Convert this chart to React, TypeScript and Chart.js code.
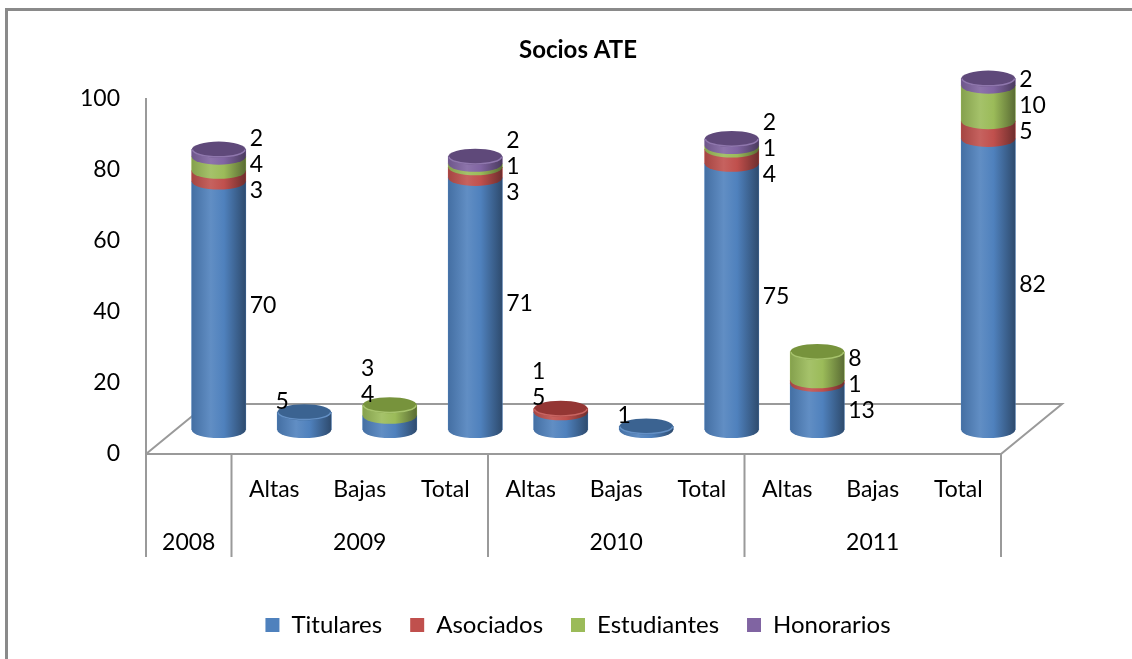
import { useEffect, useRef } from "react";
import { Chart, registerables } from "chart.js";

Chart.register(...registerables);

// ---- Data ----
const categories = [
  "2008",
  "2009 Altas",
  "2009 Bajas",
  "2009 Total",
  "2010 Altas",
  "2010 Bajas",
  "2010 Total",
  "2011 Altas",
  "2011 Bajas",
  "2011 Total",
];
const subLabels = ["", "Altas", "Bajas", "Total", "Altas", "Bajas", "Total", "Altas", "Bajas", "Total"];
const groupLabels = ["2008", "2009", "2010", "2011"];
const groupSizes = [1, 3, 3, 3];

const seriesNames = ["Titulares", "Asociados", "Estudiantes", "Honorarios"];
const titulares = [70, 5, 4, 71, 5, 1, 75, 13, null, 82];
const asociados = [3, null, null, 3, 1, null, 4, 1, null, 5];
const estudiantes = [4, null, 3, 1, null, null, 1, 8, null, 10];
const honorarios = [2, null, null, 2, null, null, 2, null, null, 2];
const seriesData = [titulares, asociados, estudiantes, honorarios];

const seriesColors = ["#4F81BD", "#C0504D", "#9BBB59", "#8064A2"];
const capColors = ["#3B6391", "#943634", "#77933C", "#5F497A"];

const FONT = 'Lato, "Open Sans", sans-serif';

// 3D projection offsets
const DEPTH_X = 61;
const DEPTH_Y = -50;
const DX = 30;
const DY = -24;
const RY = 8;
const LABEL_GAP = 26;

function shade(hex: string, f: number) {
  const n = parseInt(hex.slice(1), 16);
  let r = n >> 16;
  let g = (n >> 8) & 255;
  let b = n & 255;
  const t = f < 0 ? 0 : 255;
  const p = Math.abs(f);
  r = Math.round((t - r) * p + r);
  g = Math.round((t - g) * p + g);
  b = Math.round((t - b) * p + b);
  return `rgb(${r},${g},${b})`;
}

function spread(mids: number[], gap: number) {
  // mids ordered bottom (largest y) to top
  let clusters = mids.map((m) => ({ items: [m], n: 1, mean: m }));
  let changed = true;
  while (changed) {
    changed = false;
    for (let i = 0; i < clusters.length - 1; i++) {
      const a = clusters[i];
      const b = clusters[i + 1];
      const topA = a.mean - (gap * (a.n - 1)) / 2;
      const botB = b.mean + (gap * (b.n - 1)) / 2;
      if (topA - botB < gap) {
        const items = a.items.concat(b.items);
        const mean = items.reduce((s, v) => s + v, 0) / items.length;
        clusters.splice(i, 2, { items, n: items.length, mean });
        changed = true;
        break;
      }
    }
  }
  const out: number[] = [];
  clusters.forEach((c) => {
    for (let k = 0; k < c.n; k++) out.push(c.mean + gap * ((c.n - 1) / 2 - k));
  });
  return out;
}

const cylinderPlugin = {
  id: "cylinders",
  beforeDraw(chart: any) {
    const ctx = chart.ctx;
    ctx.save();
    ctx.strokeStyle = "#8a8a8a";
    ctx.lineWidth = 3;
    ctx.strokeRect(6.5, 9.5, chart.width + 20, chart.height + 20);
    ctx.restore();
  },
  beforeDatasetsDraw(chart: any) {
    const ctx = chart.ctx;
    const { left, right, bottom } = chart.chartArea;
    ctx.save();
    ctx.strokeStyle = "#9a9a9a";
    ctx.lineWidth = 2;
    ctx.beginPath();
    ctx.moveTo(left, bottom);
    ctx.lineTo(right, bottom);
    ctx.lineTo(right + DEPTH_X, bottom + DEPTH_Y);
    ctx.lineTo(left + DEPTH_X, bottom + DEPTH_Y);
    ctx.lineTo(left, bottom);
    ctx.stroke();
    ctx.restore();
    ctx.save();
    ctx.translate(DX, DY);
  },
  afterDatasetsDraw(chart: any) {
    const ctx = chart.ctx;
    const n = chart.data.labels.length;
    const labelsToDraw: { x: number; y: number; text: string; align: CanvasTextAlign }[] = [];
    for (let i = 0; i < n; i++) {
      const segs: { k: number; el: any; v: number }[] = [];
      chart.data.datasets.forEach((ds: any, k: number) => {
        const v = ds.data[i];
        if (v == null || v === 0) return;
        const el = chart.getDatasetMeta(k).data[i];
        segs.push({ k, el, v });
      });
      if (!segs.length) continue;
      segs.forEach((s) => {
        const { x, y, base, width } = s.el.getProps(["x", "y", "base", "width"], true);
        const l = x - width / 2;
        const r = x + width / 2;
        const c = seriesColors[s.k];
        const g = ctx.createLinearGradient(l, 0, r, 0);
        g.addColorStop(0, shade(c, -0.14));
        g.addColorStop(0.35, shade(c, 0.1));
        g.addColorStop(0.6, c);
        g.addColorStop(1, shade(c, -0.42));
        ctx.fillStyle = g;
        ctx.beginPath();
        ctx.moveTo(l, y);
        ctx.lineTo(l, base);
        ctx.ellipse(x, base, width / 2, RY, 0, Math.PI, 0, true);
        ctx.lineTo(r, y);
        ctx.closePath();
        ctx.fill();
      });
      const topSeg = segs[segs.length - 1];
      const tp = topSeg.el.getProps(["x", "y", "base", "width"], true);
      ctx.fillStyle = capColors[topSeg.k];
      ctx.beginPath();
      ctx.ellipse(tp.x, tp.y, tp.width / 2, RY, 0, 0, Math.PI * 2);
      ctx.fill();
      ctx.strokeStyle = shade(seriesColors[topSeg.k], 0.12);
      ctx.lineWidth = 1.5;
      ctx.beginPath();
      ctx.ellipse(tp.x, tp.y, tp.width / 2 - 0.75, RY - 0.75, 0, Math.PI, 0, true);
      ctx.stroke();

      const total = segs.reduce((s, v) => s + v.v, 0);
      if (total < 10) {
        const lx = tp.x - tp.width / 2 + 5;
        segs.forEach((s, idx) => {
          labelsToDraw.push({ x: lx, y: tp.y - 11 - idx * LABEL_GAP, text: String(s.v), align: "center" });
        });
      } else {
        const mids = segs.map((s) => {
          const p = s.el.getProps(["y", "base"], true);
          return (p.y + p.base) / 2;
        });
        const ys = spread(mids, LABEL_GAP);
        const lx = tp.x + tp.width / 2 + 4;
        segs.forEach((s, idx) => {
          labelsToDraw.push({ x: lx, y: ys[idx], text: String(s.v), align: "left" });
        });
      }
    }
    ctx.fillStyle = "#000";
    ctx.font = `23px ${FONT}`;
    ctx.textBaseline = "middle";
    labelsToDraw.forEach((lb) => {
      ctx.textAlign = lb.align;
      ctx.fillText(lb.text, lb.x, lb.y);
    });
    ctx.restore();
  },
  afterDraw(chart: any) {
    const ctx = chart.ctx;
    const xs = chart.scales.x;
    const { left, right, bottom } = chart.chartArea;
    const divBottom = bottom + 103;
    ctx.save();
    const bounds: number[] = [left];
    let idx = 0;
    groupSizes.forEach((sz) => {
      idx += sz;
      if (idx >= categories.length) bounds.push(right);
      else bounds.push((xs.getPixelForValue(idx - 1) + xs.getPixelForValue(idx)) / 2);
    });
    ctx.strokeStyle = "#9a9a9a";
    ctx.lineWidth = 2;
    ctx.beginPath();
    bounds.forEach((bx) => {
      ctx.moveTo(bx, bottom);
      ctx.lineTo(bx, divBottom);
    });
    ctx.stroke();
    ctx.fillStyle = "#000";
    ctx.font = `23px ${FONT}`;
    ctx.textAlign = "center";
    ctx.textBaseline = "middle";
    subLabels.forEach((t, i) => {
      if (!t) return;
      ctx.fillText(t, xs.getPixelForValue(i), bottom + 36);
    });
    groupLabels.forEach((t, g) => {
      ctx.fillText(t, (bounds[g] + bounds[g + 1]) / 2, bottom + 89);
    });
    ctx.restore();
  },
};

export default function App() {
  const ref = useRef<HTMLCanvasElement | null>(null);
  useEffect(() => {
    if (!ref.current) return;
    const chart = new Chart(ref.current, {
      type: "bar",
      data: {
        labels: categories,
        datasets: seriesNames.map((name, k) => ({
          label: name,
          data: seriesData[k] as any,
          backgroundColor: seriesColors[k],
          borderWidth: 0,
          barThickness: 54,
          stack: "s",
        })),
      },
      options: {
        responsive: false,
        animation: false,
        devicePixelRatio: 1,
        layout: { padding: { left: 24, right: 0, top: 0, bottom: 12 } },
        scales: {
          x: {
            stacked: true,
            grid: { display: false },
            border: { display: false },
            ticks: { display: false },
            afterFit: (s: any) => {
              s.height = 131;
            },
          },
          y: {
            stacked: true,
            min: 0,
            max: 100,
            ticks: { stepSize: 20, padding: 26, color: "#000", font: { family: FONT, size: 23 } },
            grid: { display: false, drawTicks: false },
            border: { display: true, color: "#9a9a9a", width: 2 },
            afterFit: (s: any) => {
              s.width = 122;
            },
          },
          yR: {
            position: "right",
            display: true,
            grid: { display: false },
            border: { display: false },
            ticks: { display: false },
            afterFit: (s: any) => {
              s.width = 131;
            },
          },
        },
        plugins: {
          title: {
            display: true,
            text: "Socios ATE",
            color: "#000",
            font: { family: FONT, size: 24, weight: "bold" },
            padding: { top: 35.6, bottom: 34.6 },
          },
          legend: {
            display: true,
            position: "bottom",
            labels: {
              color: "#000",
              font: { family: FONT, size: 24 },
              boxWidth: 14,
              boxHeight: 14,
              padding: 28,
            },
          },
          tooltip: { enabled: false },
        },
      } as any,
      plugins: [cylinderPlugin as any],
    });
    return () => chart.destroy();
  }, []);
  return (
    <div style={{ position: "fixed", left: 0, top: 0, width: 1132, height: 659, background: "#fff" }}>
      <canvas ref={ref} width={1132} height={659} style={{ display: "block" }} />
    </div>
  );
}
